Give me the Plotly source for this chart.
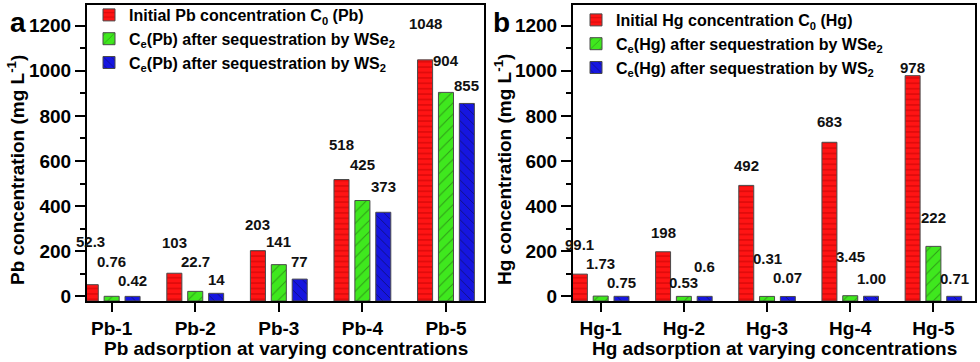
import plotly.graph_objects as go
from plotly.subplots import make_subplots

PB_GROUPS = ["Pb-1", "Pb-2", "Pb-3", "Pb-4", "Pb-5"]
PB_C0 = [52.3, 103, 203, 518, 1048]
PB_WSE2 = [0.76, 22.7, 141, 425, 904]
PB_WS2 = [0.42, 14, 77, 373, 855]
PB_C0_TXT = ["52.3", "103", "203", "518", "1048"]
PB_WSE2_TXT = ["0.76", "22.7", "141", "425", "904"]
PB_WS2_TXT = ["0.42", "14", "77", "373", "855"]

HG_GROUPS = ["Hg-1", "Hg-2", "Hg-3", "Hg-4", "Hg-5"]
HG_C0 = [99.1, 198, 492, 683, 978]
HG_WSE2 = [1.73, 0.53, 0.31, 3.45, 222]
HG_WS2 = [0.75, 0.6, 0.07, 1.00, 0.71]
HG_C0_TXT = ["99.1", "198", "492", "683", "978"]
HG_WSE2_TXT = ["1.73", "0.53", "0.31", "3.45", "222"]
HG_WS2_TXT = ["0.75", "0.6", "0.07", "1.00", "0.71"]

# heights (in mg/L) where the value labels sit
PB_LABEL_Y = [[244, 239, 317, 675, 1208],
              [156, 153, 243, 584, 1045],
              [71, 77, 155, 489, 935]]
HG_LABEL_Y = [[232, 285, 578, 774, 1012],
              [148, 62, 169, 179, 352],
              [64, 131, 86, 80, 80]]

Y_MIN, Y_MAX = -20, 1291
FONT = "Liberation Sans, Arial, sans-serif"

STYLES = [
    dict(color="#ff1414", shape="-", size=5.4, fg="#b00000", solidity=0.25),
    dict(color="#3fe81e", shape="/", size=8, fg="#1d4a10", solidity=0.12),
    dict(color="#1616e0", shape="\\", size=7, fg="#0a0a30", solidity=0.14),
]

W, H = 980, 362
ML, MR, MT, MB = 87, 5, 5, 61
PW = W - ML - MR
PH = H - MT - MB


def px_x(px):
    return (px - ML) / PW


def px_y(py):
    return (H - MB - py) / PH


fig = make_subplots(rows=1, cols=2)


def add_panel(col, groups, series, names, texts, label_y, legend):
    for k, (vals, name, txt, ly) in enumerate(zip(series, names, texts, label_y)):
        st = STYLES[k]
        fig.add_trace(go.Bar(
            x=groups,
            y=[v - Y_MIN for v in vals],
            base=Y_MIN,
            name=name,
            legend=legend,
            marker=dict(
                color=st["color"],
                line=dict(color="#4a4a4a", width=1),
                pattern=dict(shape=st["shape"], size=st["size"], fgcolor=st["fg"],
                             solidity=st["solidity"], fillmode="overlay"),
            ),
        ), row=1, col=col)
        xref = "x" if col == 1 else "x2"
        yref = "y" if col == 1 else "y2"
        for i, (t, yy) in enumerate(zip(txt, ly)):
            fig.add_annotation(x=i + (k - 1) * 0.25, y=yy, xref=xref, yref=yref,
                               xanchor="center", yanchor="middle",
                               text=t, showarrow=False,
                               font=dict(size=15, color="#111", family=FONT, weight="bold"))


add_panel(1, PB_GROUPS, [PB_C0, PB_WSE2, PB_WS2],
          ["Initial Pb concentration C<sub>0</sub> (Pb)",
           "C<sub>e</sub>(Pb) after sequestration by WSe<sub>2</sub>",
           "C<sub>e</sub>(Pb) after sequestration by WS<sub>2</sub>"],
          [PB_C0_TXT, PB_WSE2_TXT, PB_WS2_TXT], PB_LABEL_Y, "legend")
add_panel(2, HG_GROUPS, [HG_C0, HG_WSE2, HG_WS2],
          ["Initial Hg concentration C<sub>0</sub> (Hg)",
           "C<sub>e</sub>(Hg) after sequestration by WSe<sub>2</sub>",
           "C<sub>e</sub>(Hg) after sequestration by WS<sub>2</sub>"],
          [HG_C0_TXT, HG_WSE2_TXT, HG_WS2_TXT], HG_LABEL_Y, "legend2")

axis_common = dict(showline=True, linecolor="black", linewidth=2, mirror=True,
                   showgrid=False, zeroline=False, ticks="outside", automargin=False,
                   tickwidth=2, tickcolor="black",
                   tickfont=dict(size=19, family=FONT, weight="bold", color="black"))

fig.update_xaxes(**axis_common, ticklen=9, ticklabelstandoff=0)
fig.update_yaxes(**axis_common, ticklen=10, range=[Y_MIN, Y_MAX], dtick=200, tick0=0,
                 minor=dict(dtick=100, ticklen=5, tickwidth=2, tickcolor="black", ticks="outside"))

X1_DOM = [0, px_x(484)]
X2_DOM = [px_x(573), 1]

fig.update_layout(
    xaxis=dict(domain=X1_DOM, range=[-0.295, 4.455]),
    xaxis2=dict(domain=X2_DOM, range=[-0.333, 4.5]),
    barmode="group",
    bargap=0.25,
    bargroupgap=0.28,
    width=W,
    height=H,
    margin=dict(l=ML, r=MR, t=MT, b=MB, autoexpand=False),
    paper_bgcolor="white",
    plot_bgcolor="white",
    font=dict(family=FONT, weight="bold", color="black"),
    legend=dict(x=px_x(89), xanchor="left", y=px_y(-2), yanchor="top",
                bgcolor="rgba(0,0,0,0)", font=dict(size=16, family=FONT, weight="bold"),
                itemwidth=30, tracegroupgap=0),
    legend2=dict(x=px_x(576), xanchor="left", y=px_y(3), yanchor="top",
                 bgcolor="rgba(0,0,0,0)", font=dict(size=16, family=FONT, weight="bold"),
                 itemwidth=30, tracegroupgap=0),
)

title_font = dict(size=19, family=FONT, weight="bold", color="black")
for dom, txt in [(X1_DOM, "Pb adsorption at varying concentrations"),
                 (X2_DOM, "Hg adsorption at varying concentrations")]:
    fig.add_annotation(x=(dom[0] + dom[1]) / 2, y=px_y(348), xref="paper", yref="paper",
                       xanchor="center", yanchor="middle",
                       text=txt, showarrow=False, font=title_font)
for xp, txt in [(16, "Pb concentration (mg L<sup>-1</sup>)"),
                (503, "Hg concentration (mg L<sup>-1</sup>)")]:
    fig.add_annotation(x=px_x(xp), y=px_y(170), xref="paper", yref="paper",
                       xanchor="center", yanchor="middle",
                       text=txt, textangle=-90, showarrow=False, font=title_font)

for xp, txt in [(18, "a"), (501, "b")]:
    fig.add_annotation(x=px_x(xp), y=px_y(22), xref="paper", yref="paper",
                       xanchor="center", yanchor="middle",
                       text=txt, showarrow=False,
                       font=dict(size=28, family=FONT, weight="bold", color="black"))

# the page's default body margin would shift the whole figure by 8 px
fig.write_html("out.html", config={"displayModeBar": False},
               post_script="document.body.style.margin='0';")
